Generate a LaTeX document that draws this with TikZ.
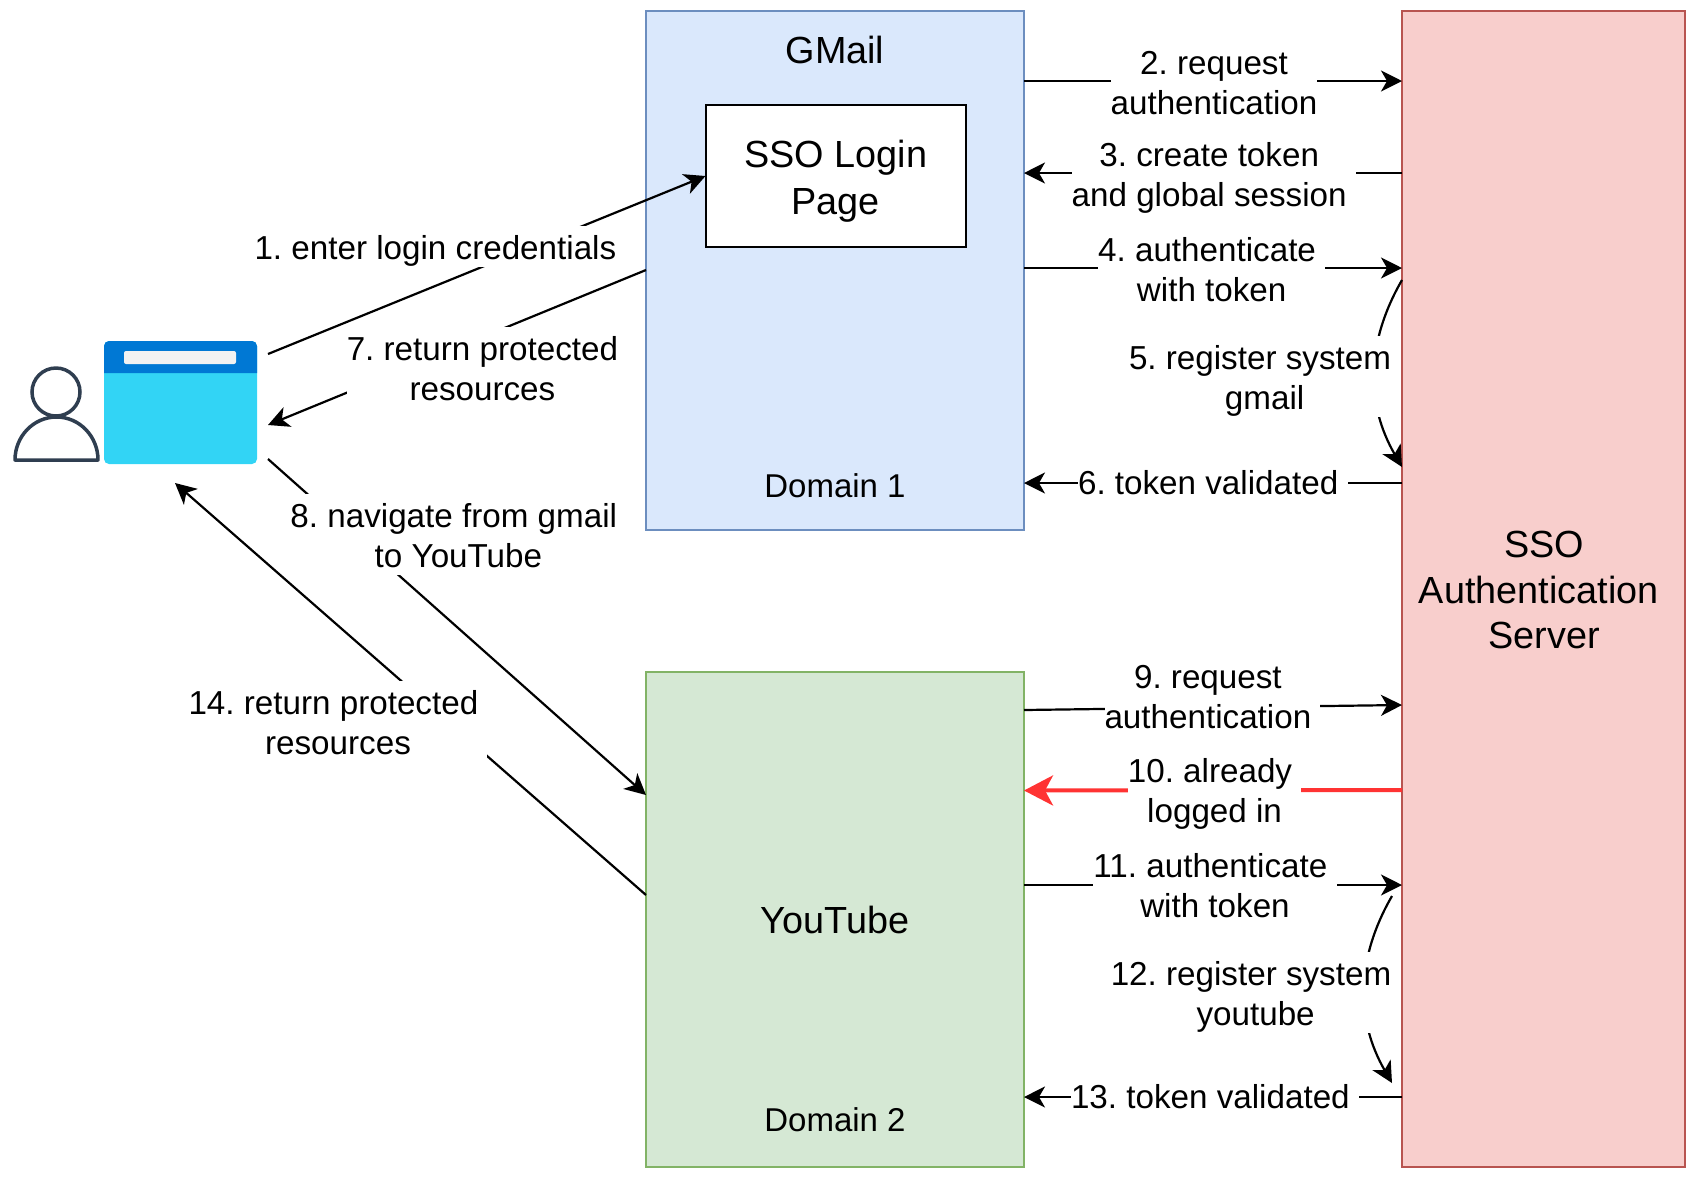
\documentclass[tikz,border=0pt]{standalone}
\usepackage{fontspec}
\setmainfont{Liberation Sans}
\usepackage{xcolor}
\usetikzlibrary{arrows.meta}
\definecolor{gmailfill}{HTML}{DAE8FC}
\definecolor{gmailline}{HTML}{6C8EBF}
\definecolor{ytfill}{HTML}{D5E8D4}
\definecolor{ytline}{HTML}{82B366}
\definecolor{ssofill}{HTML}{F8CECC}
\definecolor{ssoline}{HTML}{B85450}
\definecolor{redarrow}{HTML}{FF3333}
\definecolor{winhead}{HTML}{0078D4}
\definecolor{winbody}{HTML}{32D4F5}
\definecolor{winbar}{HTML}{F2F2F2}
\definecolor{usercol}{HTML}{2F3E50}
\frenchspacing
\newcommand{\lbltop}{\rule{0pt}{16.7pt}}
\newcommand{\lblbot}{\rule[-3.8pt]{0pt}{3.8pt}}
\newcommand{\tsp}{~\mbox{}}
\newcommand{\oneline}[1]{\lbltop#1\lblbot}
\newcommand{\twolines}[2]{\lbltop#1\\#2\lblbot}

\begin{document}
\begin{tikzpicture}[
    x=0.5pt, y=-0.5pt,
    domainbox/.style={draw, line width=1pt, minimum width=189pt, inner sep=0pt, outer sep=0pt},
    boxtext/.style={font=\fontsize{18.9}{22.6}\selectfont, align=center, inner sep=0pt},
    smalltext/.style={font=\fontsize{16.5}{20}\selectfont, align=center, inner sep=0pt},
    lbl/.style={font=\fontsize{16.6}{20}\selectfont, align=center, inner sep=0pt, fill=white},
    arrow/.style={-{Stealth[length=10.5pt, width=10.5pt, inset=3pt]}, line width=1.1pt},
    redflow/.style={-{Stealth[length=14.5pt, width=15pt, inset=4pt]}, line width=2pt, draw=redarrow, color=redarrow}
]
    \useasboundingbox (0,0) rectangle (1694,1180);

    % Domain boxes
    \node[domainbox, draw=gmailline, fill=gmailfill, minimum height=259.5pt] (gmail) at (835,270.5) {};
    \node[domainbox, draw=ytline, fill=ytfill, minimum height=247.5pt] (youtube) at (835,919.5) {};
    \node[draw, line width=1pt, fill=white, minimum width=130.25pt, minimum height=71pt, inner sep=0pt, outer sep=0pt] (login) at (835.75,176) {};
    \node[draw=ssoline, line width=1pt, fill=ssofill, minimum width=141.5pt, minimum height=578pt, inner sep=0pt, outer sep=0pt] (sso) at (1543.5,589) {};

    % Box texts
    \node[boxtext] (gmailtext) at (835,50) {GMail};
    \node[boxtext] (logintext) at (835.75,181) {SSO Login\\[1pt]Page};
    \node[smalltext] (domain1) at (835,486) {Domain 1};
    \node[boxtext] (yttext) at (835,920) {YouTube};
    \node[smalltext] (domain2) at (835,1120) {Domain 2};
    \node[boxtext] (ssotext) at (1544,590) {SSO\\Authentication\tsp\\Server};

    % User
    \node[draw=usercol, line width=1.75pt, circle, minimum size=24pt, inner sep=0pt] (userhead) at (56,392) {};
    \draw[usercol, line width=1.75pt, line join=round] (15,460) arc[start angle=180, end angle=0, x radius=20.75pt, y radius=21.5pt] -- cycle;

    % Browser window
    \node[fill=winbody, rounded corners=2.5pt, minimum width=76.5pt, minimum height=61.5pt, inner sep=0pt] (browser) at (180.5,402.5) {};
    \fill[winhead] (104,373) [rounded corners=2.5pt] -- (104,341) -- (257,341) [sharp corners] -- (257,373) -- cycle;
    \node[fill=winbar, rounded corners=1pt, minimum width=56pt, minimum height=6.5pt, inner sep=0pt] (winaddress) at (180,357.5) {};

    % Free ends next to the browser
    \coordinate (out1) at (268,354);
    \coordinate (in7) at (268,425);
    \coordinate (out8) at (268,459);
    \coordinate (in14) at (175,483);

    % Arrows
    \draw[arrow] (out1) -- (login.west);
    \draw[arrow] (gmail.west |- 0,270) -- (in7);
    \draw[arrow] (out8) -- (youtube.west |- 0,795);
    \draw[arrow] (youtube.west |- 0,895) -- (in14);

    \draw[arrow] (gmail.east |- 0,81) -- (sso.west |- 0,81);
    \draw[arrow] (sso.west |- 0,173) -- (gmail.east |- 0,173);
    \draw[arrow] (gmail.east |- 0,268) -- (sso.west |- 0,268);
    \draw[arrow] (sso.west |- 0,280) to[bend right=30] (sso.west |- 0,467);
    \draw[arrow] (sso.west |- 0,483) -- (gmail.east |- 0,483);

    \draw[arrow] (youtube.east |- 0,710) -- (sso.west |- 0,705);
    \draw[redflow] (sso.west |- 0,790) -- (youtube.east |- 0,790.5);
    \draw[arrow] (youtube.east |- 0,885) -- (sso.west |- 0,885);
    \draw[arrow] ([xshift=-5pt]sso.west |- 0,896) to[bend right=30] ([xshift=-5pt]sso.west |- 0,1083);
    \draw[arrow] (sso.west |- 0,1097) -- (youtube.east |- 0,1097);

    % Labels
    \node[lbl] (lab1) at (435.4,246.1) {\oneline{1. enter login credentials}};
    \node[lbl] (lab2) at (1214,81.9) {\twolines{2. request}{authentication}};
    \node[lbl] (lab3) at (1213.8,173.9) {\twolines{3. create token\tsp}{and global session\tsp}};
    \node[lbl] (lab4) at (1211.7,268.9) {\twolines{4. authenticate\tsp}{with token}};
    \node[lbl] (lab5) at (1260,376.9) {\twolines{5. register system}{~gmail}};
    \node[lbl] (lab6) at (1212.8,482) {\oneline{6. token validated\tsp}};
    \node[lbl] (lab7) at (482.4,367.9) {\twolines{7. return protected}{resources}};
    \node[lbl] (lab8) at (453.8,534.9) {\twolines{8. navigate from gmail}{~to YouTube}};
    \node[lbl] (lab9) at (1212.5,695.9) {\twolines{9. request\tsp}{authentication\tsp}};
    \node[lbl] (lab10) at (1214.6,789.9) {\twolines{10. already\tsp}{logged in}};
    \node[lbl] (lab11) at (1215,884.9) {\twolines{11. authenticate\tsp}{with token}};
    \node[lbl] (lab12) at (1251,992.9) {\twolines{12. register system}{~youtube}};
    \node[lbl] (lab13) at (1215,1095.1) {\oneline{13. token validated\tsp}};
    \node[lbl] (lab14) at (338,721.9) {\twolines{14. return protected\tsp}{resources}};
\end{tikzpicture}
\end{document}
